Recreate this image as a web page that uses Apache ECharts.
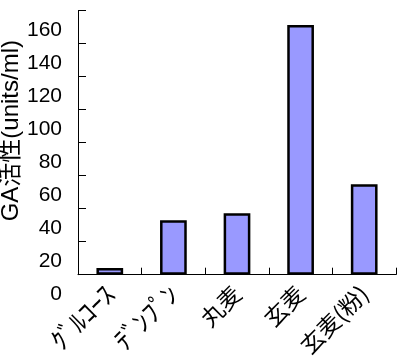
<!DOCTYPE html>
<html>
<head>
<meta charset="utf-8">
<script src="https://cdn.jsdelivr.net/npm/echarts@6/dist/echarts.min.js"></script>
<style>
html,body{margin:0;padding:0;background:#fff;}
#c{width:404px;height:364px;}
</style>
</head>
<body>
<div id="c"></div>
<script>
const categories = ['ｸﾞﾙｺｰｽ', 'ﾃﾞﾝﾌﾟﾝ', '丸麦', '玄麦', '玄麦(粉)'];
const gaActivity = [4, 33, 37.2, 151.3, 54.8];
const yTicks = [0, 20, 40, 60, 80, 100, 120, 140, 160];
const yTitle = 'GA活性(units/ml)';

const chart = echarts.init(document.getElementById('c'), null, {renderer: 'canvas'});
chart.setOption({
  animation: false,
  backgroundColor: '#fff',
  grid: {left: 78, right: 8, top: 10.7, bottom: 89.3, containLabel: false, outerBoundsMode: 'none'},
  xAxis: {
    type: 'category',
    data: categories,
    boundaryGap: true,
    axisLine: {show: true, lineStyle: {color: '#000', width: 1}},
    axisTick: {show: true, inside: true, length: 7, alignWithLabel: false, lineStyle: {color: '#000'}},
    axisLabel: {
      interval: 0, rotate: 45, margin: 15,
      color: '#000', fontSize: 23,
      fontFamily: '"Noto Sans CJK JP", sans-serif',
      formatter: function (v) { return /[\uFF66-\uFF9F]/.test(v) ? '{k|' + v + '}' : v; },
      rich: {k: {fontSize: 26, fontFamily: '"Noto Sans CJK JP", sans-serif', color: '#000'}}
    }
  },
  yAxis: {
    type: 'value',
    min: yTicks[0], max: yTicks[yTicks.length - 1], interval: 20,
    splitLine: {show: false},
    axisLine: {show: true, lineStyle: {color: '#000', width: 1}},
    axisTick: {show: true, inside: true, length: 8, lineStyle: {color: '#000'}},
    axisLabel: {
      color: '#000', fontSize: 21, margin: 16,
      showMinLabel: true, showMaxLabel: true, hideOverlap: false,
      fontFamily: '"Liberation Sans", Arial, sans-serif',
      verticalAlign: 'top',
      formatter: function (v) { return '{s| }\n{a|' + v + '}'; },
      rich: {
        s: {fontSize: 2, lineHeight: 8},
        a: {fontSize: 21, lineHeight: 23, color: '#000', fontFamily: '"Liberation Sans", Arial, sans-serif'}
      }
    },
    name: '\u3000' + yTitle,
    nameLocation: 'middle',
    nameGap: 55,
    nameRotate: 90,
    nameMoveOverlap: false,
    nameTextStyle: {
      color: '#000', fontSize: 24, fontFamily: '"Liberation Sans", "Noto Sans CJK JP", sans-serif'
    }
  },
  series: [{
    type: 'bar',
    data: gaActivity,
    barWidth: '42%',
    itemStyle: {color: '#9999FF', borderColor: '#000', borderWidth: 2.5}
  }]
});
</script>
</body>
</html>
